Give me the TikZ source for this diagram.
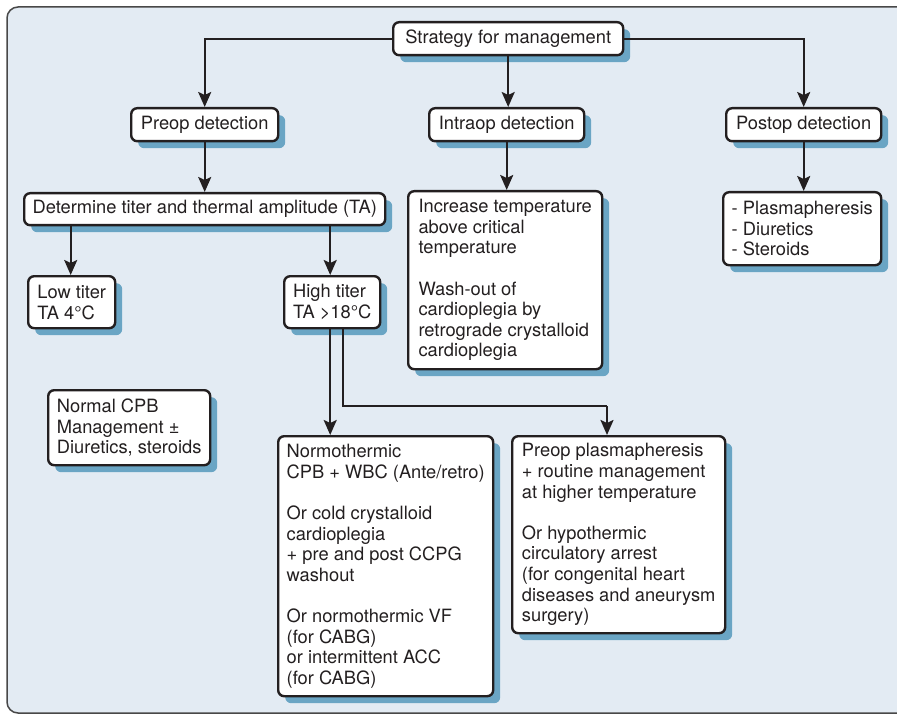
\documentclass[tikz,border=0pt]{standalone}
\usepackage{fontspec}
\setmainfont{TeX Gyre Heros}
\usetikzlibrary{arrows.meta,shadows}
\definecolor{panelfill}{RGB}{227,235,243}
\definecolor{panelline}{RGB}{72,72,72}
\definecolor{shadowblue}{RGB}{106,165,196}
\definecolor{ink}{RGB}{35,31,32}
\tikzset{
  box/.style={draw=ink, line width=2.4pt, fill=white, rounded corners=6pt,
    anchor=north west, align=left, inner sep=0pt, text=ink,
    font=\fontsize{18.3}{20.6}\selectfont,
    drop shadow={shadow xshift=7pt, shadow yshift=-7pt, fill=shadowblue, opacity=1}},
  conn/.style={draw=ink, line width=2.2pt,
    -{Stealth[length=15pt, width=13pt, inset=3pt]}},
  link/.style={draw=ink, line width=2.2pt}
}
\begin{document}
\begin{tikzpicture}[x=1pt, y=-1pt]
\useasboundingbox (0,0) rectangle (897,714);
\clip (0,0) rectangle (897,714);
% background panel
\draw[panelline, line width=1.5pt, fill=panelfill, rounded corners=11pt]
  (7,7) rectangle (918,713);

% boxes
\node[box, minimum width=230pt, minimum height=33pt] (strat) at (392,21) {Strategy for management};
\node[box, minimum width=147pt, minimum height=33pt] (preop) at (130,107) {Preop detection};
\node[box, minimum width=155pt, minimum height=33pt] (intra) at (428,107) {Intraop detection};
\node[box, minimum width=155pt, minimum height=33pt] (post) at (725,107) {Postop detection};
\node[box, minimum width=361pt, minimum height=32pt] (det) at (23,192) {Determine titer and thermal amplitude (TA)};
\node[box, minimum width=194pt, minimum height=178pt] (incr) at (407,190)
  {Increase temperature\\above critical\\temperature\\[20.6pt]Wash-out of\\cardioplegia by\\retrograde crystalloid\\cardioplegia};
\node[box, minimum width=158pt, minimum height=73pt] (plist) at (722,191)
  {- Plasmapheresis\\- Diuretics\\- Steroids};
\node[box, minimum width=87pt, minimum height=52pt] (low) at (27,275) {Low titer\\TA 4°C};
\node[box, minimum width=96pt, minimum height=52pt] (high) at (283,275) {High titer\\TA >18°C};
\node[box, minimum width=162pt, minimum height=75pt] (ncpb) at (47,389)
  {Normal CPB\\Management ±\\Diuretics, steroids};
\node[box, minimum width=215pt, minimum height=260pt] (normo) at (277,435)
  {Normothermic\\CPB + WBC (Ante/retro)\\[20.6pt]Or cold crystalloid\\cardioplegia\\+ pre and post CCPG\\washout\\[20.6pt]Or normothermic VF\\(for CABG)\\or intermittent ACC\\(for CABG)};
\node[box, minimum width=213pt, minimum height=197pt] (pplas) at (511,435)
  {Preop plasmapheresis\\+ routine management\\at higher temperature\\[20.6pt]Or hypothermic\\circulatory arrest\\(for congenital heart\\diseases and aneurysm\\surgery)};

% connectors
\draw[conn] (strat.west) -| (preop.north);
\draw[conn] (strat.east) -| (post.north);
\draw[conn] (strat.south) -- (strat.south |- intra.north);
\draw[conn] (preop.south) -- (det.north);
\draw[conn] (intra.south) -- (intra.south |- incr.north);
\draw[conn] (post.south) -- (post.south |- plist.north);
\draw[conn] ([xshift=-1pt]low.north |- det.south) -- ([xshift=-1pt]low.north);
\draw[conn] ([xshift=-2pt]high.north |- det.south) -- ([xshift=-2pt]high.north);
\draw[conn] ([xshift=-2pt]high.south) -- ([xshift=-2pt]high.south |- normo.north);
\coordinate (turn) at (607,406);
\draw[link] ([xshift=11pt]high.south) |- (turn);
\draw[conn] (turn) -- (turn |- pplas.north);
\end{tikzpicture}
\end{document}
